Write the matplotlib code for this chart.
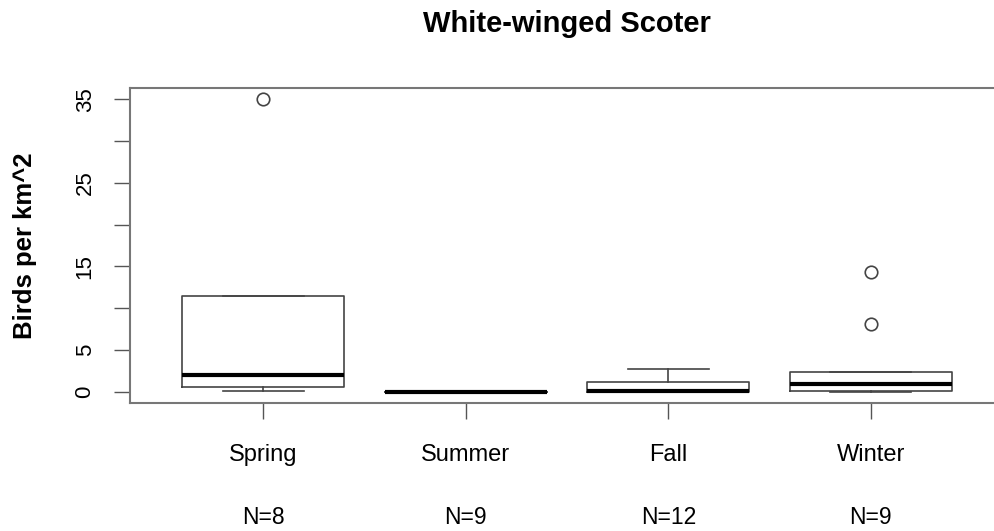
import matplotlib
matplotlib.use("Agg")
import matplotlib.pyplot as plt

plt.rcParams['font.family'] = ['Liberation Sans', 'DejaVu Sans']

seasons = ["Spring", "Summer", "Fall", "Winter"]
counts = [8, 9, 12, 9]
# five-number summaries (birds per km^2)
whislo = [0.08, 0.0, 0.0, 0.0]
q1 = [0.52, 0.0, 0.0, 0.05]
med = [2.03, 0.0, 0.08, 0.92]
q3 = [11.46, 0.0, 1.2, 2.39]
whishi = [11.5, 0.0, 2.72, 2.39]
outliers = [[35.0], [], [], [8.07, 14.36]]

yticks = [0, 5, 10, 15, 20, 25, 30, 35]
ylabels = ["0", "5", "", "15", "", "25", "", "35"]

stats = []
for i in range(len(seasons)):
    stats.append(dict(label=seasons[i], whislo=whislo[i], q1=q1[i], med=med[i],
                      q3=q3[i], whishi=whishi[i], fliers=outliers[i]))

fig = plt.figure(figsize=(9.95, 5.31), dpi=100)
ax = fig.add_axes([129.65 / 995, 1 - 403.4 / 531, 874.8 / 995, (403.4 - 87.6) / 531])

edge = "#444444"
ax.bxp(stats, positions=[1, 2, 3, 4], widths=0.8, capwidths=0.4,
       boxprops=dict(color=edge, linewidth=1.2),
       whiskerprops=dict(color=edge, linewidth=1.2),
       capprops=dict(color=edge, linewidth=1.2),
       medianprops=dict(color="black", linewidth=3),
       flierprops=dict(marker="o", markersize=9, markerfacecolor="none",
                       markeredgecolor=edge, markeredgewidth=1.2))

ax.set_xlim(0.34, 4.66)
ax.set_ylim(-1.4, 36.4)

for s in ax.spines.values():
    s.set_color("#777777")
    s.set_linewidth(1.5)

ax.set_yticks(yticks)
ax.set_yticklabels(ylabels, rotation=90, va="center", fontsize=16)
ax.tick_params(axis="y", length=11.5, width=1, color="#555555", pad=13)

ax.set_xticks([1, 2, 3, 4])
ax.set_xticklabels(seasons, fontsize=17)
ax.tick_params(axis="x", length=11.5, width=1, color="#555555", pad=17.5)

for i, n in enumerate(counts):
    ax.annotate("N=%d" % n, xy=(i + 1, 0), xycoords=("data", "axes fraction"),
                xytext=(0, -113.6), textcoords="offset pixels",
                ha="center", va="center", fontsize=16.5)

fig.text(567 / 995, 1 - 23.5 / 531, "White-winged Scoter", ha="center", va="center",
         fontsize=21, fontweight="bold")
fig.text(25 / 995, 1 - 245.5 / 531, "Birds per km^2", rotation=90, ha="center",
         va="center", fontsize=18.5, fontweight="bold")

fig.savefig("out.png", dpi=100)
